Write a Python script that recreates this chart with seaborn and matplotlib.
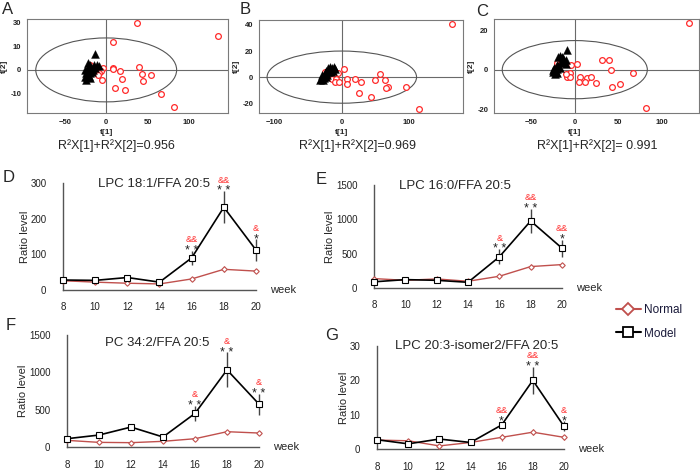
import matplotlib
matplotlib.use('Agg')
import matplotlib.pyplot as plt
import matplotlib.transforms as mtransforms
from matplotlib.patches import Ellipse
from matplotlib.lines import Line2D
import seaborn as sns

# --- BLOCK 1: DATA ---
# score plots: black triangles and red open circles, t[1] / t[2]
A_tri_x = [-13, -22.5, -19, -15, -11, -9, -25, -21, -18, -16, -24, -20, -17, -26, -23, -21, -24, -13, -22, -19]
A_tri_y = [6.9, 3, 2, 2, 2, 1.8, 0, 0.2, 0.5, -0.2, -1.5, -1.2, -1, -3, -2.8, -2.5, -4.2, 1, 1.2, -3.5]
A_circ_x = [37, 135, 7.6, 40, -4.4, 7.6, 8.4, 16.5, 43, 54, 19, 45, -4.8, 11, 23, 66, 82, -19, -6.4, -8.4, -10]
A_circ_y = [19.7, 14.4, 11.7, 1.1, 1, 0.6, 0.3, -0.3, -1.7, -2, -3.7, -4.6, -4.4, -7.5, -8.6, -10.3, -15.8, 2, -0.3, -1.4, -2.3]

B_tri_x = [-30, -31, -28, -27, -29, -25, -23, -20, -18, -15, -12, -10, -13, -16, -20, -22, -26, -32, -24, -17]
B_tri_y = [0, -1.5, -2.5, 1, 2, 3, 5, 7, 8, 7, 8, 6, 5, 4, 4, 2, -1, -2, 0, 6]
B_circ_x = [163, 115, 3, 57, 7, 19, 28, 50, 64, 7, 69, 66, 95, 25, 43, -6.4, -14, -8, -10, -4, -25]
B_circ_y = [40.5, -24.4, 5.9, 2.5, -1.5, -1.5, -4, -2, -2, -5.6, -7.6, -8.1, -7.4, -12.5, -15.5, 3, -1.5, -1.5, -3.6, -4, 3.6]

C_tri_x = [-9, -17, -15, -13.5, -19, -10, -10, -16, -13.5, -21, -19, -25, -23, -21, -25.5, -23, -20.5, -17, -22, -24]
C_tri_y = [9.9, 7, 6.3, 5.8, 6.6, 5, 3, 4, 3.5, 2.5, 1.6, 0, -0.3, 0.3, -1.3, -2, -1.7, 1, -1, 1]
C_circ_x = [131, 81.5, 31, 39, 3, -4.6, 42, 67, 6.5, 14.6, 18.5, 4.6, 11.5, 24, 43, 52, -5.8, -9, -5, -10.4, -20, -18]
C_circ_y = [23.6, -19.6, 4.9, 4.7, 2.7, 2.2, -0.3, -1.7, -3.5, -4, -3.9, -6.4, -6.4, -6.9, -8.6, -7.3, -1.7, -3.5, -3.7, -2, 3.2, 2.5]

# Hotelling ellipse (width, height) in t[1]/t[2] units
A_ellipse = (170, 27)
B_ellipse = (222, 40)
C_ellipse = (167, 29.4)

r2_labels = ["R\u00b2X[1]+R\u00b2X[2]=0.956", "R\u00b2X[1]+R\u00b2X[2]=0.969", "R\u00b2X[1]+R\u00b2X[2]= 0.991"]

# ratio time courses
weeks = [8, 10, 12, 14, 16, 18, 20]

D_model = [28, 27, 35, 22, 90, 232, 112]
D_model_sd = [3, 3, 3, 3, 20, 45, 30]
D_normal = [26, 22, 19, 17, 31, 58, 53]
D_normal_sd = [2, 2, 2, 2, 3, 8, 4]

E_model = [90, 122, 112, 83, 454, 976, 580]
E_model_sd = [15, 10, 10, 10, 110, 180, 125]
E_normal = [137, 112, 132, 98, 171, 312, 341]
E_normal_sd = [10, 8, 8, 8, 10, 40, 15]

F_model = [111, 160, 267, 134, 450, 1033, 574]
F_model_sd = [15, 20, 25, 15, 105, 235, 140]
F_normal = [89, 62, 58, 76, 111, 205, 187]
F_normal_sd = [8, 6, 6, 6, 8, 15, 10]

G_model = [2.7, 1.5, 2.9, 1.9, 7.0, 20.0, 6.6]
G_model_sd = [0.2, 0.2, 0.2, 0.2, 1.0, 4.0, 1.5]
G_normal = [2.6, 2.4, 0.9, 1.9, 3.4, 4.9, 3.4]
G_normal_sd = [0.2, 0.2, 0.1, 0.2, 1.0, 0.8, 0.7]

# significance marks at weeks 16, 18, 20
sig_weeks = [16, 18, 20]
D_star = ["* *", "* *", "*"]
D_amp = ["&&", "&&", "&"]
E_star = ["* *", "* *", "*"]
E_amp = ["&", "&&", "&&"]
F_star = ["* *", "* *", "* *"]
F_amp = ["&", "&", "&"]
G_star = ["*", "* *", "*"]
G_amp = ["&&", "&&", "&"]

# --- BLOCK 2: STYLE ---
sns.set_style('white')
plt.rcParams['font.family'] = ['Liberation Sans', 'DejaVu Sans']

RED = '#C0504D'
PT_RED = '#FF2A2A'
W, H = 700, 472

fig = plt.figure(figsize=(7, 4.72), dpi=100)


def px_rect(left, top, right, bottom):
    return [left / W, 1 - bottom / H, (right - left) / W, (bottom - top) / H]


def score_plot(rect, tri_x, tri_y, circ_x, circ_y, ell, xlim, ylim, xticks, yticks, yticklabels):
    ax = fig.add_axes(rect)
    ax.axhline(0, color='#6a6a6a', lw=0.8, zorder=1)
    ax.axvline(0, color='#6a6a6a', lw=0.8, zorder=1)
    ax.add_patch(Ellipse((0, 0), ell[0], ell[1], fill=False, edgecolor='#555555', lw=0.8, zorder=1))
    sns.scatterplot(x=circ_x, y=circ_y, ax=ax, marker='o', s=17, color='white',
                    edgecolor=PT_RED, linewidth=0.9, zorder=3)
    sns.scatterplot(x=tri_x, y=tri_y, ax=ax, marker='^', s=32, color='black',
                    edgecolor='black', linewidth=0.3, zorder=4)
    ax.set_xlim(xlim)
    ax.set_ylim(ylim)
    ax.set_xticks(xticks)
    ax.set_yticks(yticks)
    ax.set_yticklabels(yticklabels)
    ax.tick_params(labelsize=5.5, length=2, width=0.6, pad=2, colors='#222222')
    for lab in ax.get_xticklabels() + ax.get_yticklabels():
        lab.set_fontweight('bold')
    for sp in ax.spines.values():
        sp.set_color('#7a7a7a')
        sp.set_linewidth(0.8)
    trans = mtransforms.blended_transform_factory(ax.transData, ax.transAxes)
    ax.text(0, -0.21, 't[1]', transform=trans, ha='center', va='center', fontsize=6, fontweight='bold')
    ax.set_ylabel('t[2]', fontsize=6, fontweight='bold', labelpad=2)
    return ax


score_plot(px_rect(27, 19, 228, 113), A_tri_x, A_tri_y, A_circ_x, A_circ_y, A_ellipse,
           (-95.6, 147), (-18.2, 21.5), [-50, 0, 50, 100], [-10, 0, 10, 20], ['-10', '0', '10', '30'])
score_plot(px_rect(259, 20, 463, 113), B_tri_x, B_tri_y, B_circ_x, B_circ_y, B_ellipse,
           (-123, 180), (-27.5, 43.8), [-100, 0, 100], [-20, 0, 20, 40], ['-20', '0', '20', '40'])
score_plot(px_rect(494, 19, 699, 113), C_tri_x, C_tri_y, C_circ_x, C_circ_y, C_ellipse,
           (-93, 143), (-21.9, 25.6), [-50, 0, 50, 100], [-20, 0, 20], ['-20', '0', '20'])

for txt, cx in zip(r2_labels, [116, 358, 597]):
    fig.text(cx / W, 1 - 146 / H, txt, ha='center', va='center', fontsize=9)


def ratio_plot(rect, model, model_sd, normal, normal_sd, ymax, yticks, title, title_xy, stars, amps):
    ax = fig.add_axes(rect)
    ax.errorbar(weeks, normal, yerr=normal_sd, fmt='none', ecolor=RED, elinewidth=0.9,
                capsize=0, zorder=2, clip_on=False)
    ax.errorbar(weeks, model, yerr=model_sd, fmt='none', ecolor='#444444', elinewidth=1,
                capsize=0, zorder=2, clip_on=False)
    sns.lineplot(x=weeks, y=normal, ax=ax, color=RED, linewidth=1, marker='D', markersize=2.8,
                 markerfacecolor='white', markeredgecolor=RED, markeredgewidth=0.8,
                 clip_on=False, zorder=3)
    sns.lineplot(x=weeks, y=model, ax=ax, color='black', linewidth=1.2, marker='s', markersize=4,
                 markerfacecolor='white', markeredgecolor='black', markeredgewidth=0.8,
                 clip_on=False, zorder=4)
    ax.set_xlim(8, 20)
    ax.set_ylim(0, ymax)
    ax.set_xticks(weeks)
    ax.set_yticks(yticks)
    ax.set_ylabel('Ratio level', fontsize=8, labelpad=0.5)
    ax.set_xlabel('')
    sns.despine(ax=ax)
    for sp in ('left', 'bottom'):
        ax.spines[sp].set_color('#555555')
        ax.spines[sp].set_linewidth(1)
    ax.tick_params(direction='out', length=3, width=0.8, colors='#555555', labelcolor='#222222',
                   labelsize=7)
    ax.tick_params(axis='x', pad=6)
    ax.tick_params(axis='y', pad=9)
    ax.text(1.075, 0, 'week', transform=ax.transAxes, ha='left', va='center', fontsize=8)
    ax.text(title_xy[0], title_xy[1], title, transform=ax.transAxes, ha='center', va='center',
            fontsize=9.5)
    for wk, st, am in zip(sig_weeks, stars, amps):
        i = weeks.index(wk)
        top = model[i] + model_sd[i]
        ax.annotate(st, xy=(wk, top), xytext=(0, -2.3), textcoords='offset points', ha='center',
                    va='baseline', fontsize=9, color='#222222', annotation_clip=False)
        ax.annotate(am, xy=(wk, top), xytext=(0, 6.2), textcoords='offset points', ha='center',
                    va='baseline', fontsize=6.5, color=PT_RED, annotation_clip=False)
    return ax


ratio_plot(px_rect(63, 183, 256, 290), D_model, D_model_sd, D_normal, D_normal_sd,
           300, [0, 100, 200, 300], 'LPC 18:1/FFA 20:5', (0.47, 0.99), D_star, D_amp)
ratio_plot(px_rect(374, 185, 562, 288), E_model, E_model_sd, E_normal, E_normal_sd,
           1500, [0, 500, 1000, 1500], 'LPC 16:0/FFA 20:5', (0.43, 0.99), E_star, E_amp)
ratio_plot(px_rect(67, 335, 259, 447), F_model, F_model_sd, F_normal, F_normal_sd,
           1500, [0, 500, 1000, 1500], 'PC 34:2/FFA 20:5', (0.47, 0.93), F_star, F_amp)
ratio_plot(px_rect(377, 346, 564, 449), G_model, G_model_sd, G_normal, G_normal_sd,
           30, [0, 10, 20, 30], 'LPC 20:3-isomer2/FFA 20:5', (0.535, 1.0), G_star, G_amp)

# --- BLOCK 3: LEGEND + PANEL LETTERS ---
handles = [
    Line2D([], [], color=RED, lw=1.5, marker='D', markersize=6, markerfacecolor='white',
           markeredgecolor=RED, markeredgewidth=1.3),
    Line2D([], [], color='black', lw=1.5, marker='s', markersize=7, markerfacecolor='white',
           markeredgecolor='black', markeredgewidth=1.3),
]
fig.legend(handles, ['Normal', 'Model'], loc='center left', bbox_to_anchor=(616 / W, 1 - 322 / H),
           frameon=False, fontsize=8.5, handlelength=2.1, handletextpad=0.3, labelspacing=0.95,
           borderpad=0, borderaxespad=0, labelcolor='#1a1a3a')

for letter, lx, ly in [('A', 8, 10), ('B', 245, 10), ('C', 482, 11), ('D', 9, 177),
                       ('E', 321, 180), ('F', 11, 326), ('G', 332, 336)]:
    fig.text(lx / W, 1 - ly / H, letter, ha='center', va='center', fontsize=12)

fig.savefig('out.png', dpi=100)
